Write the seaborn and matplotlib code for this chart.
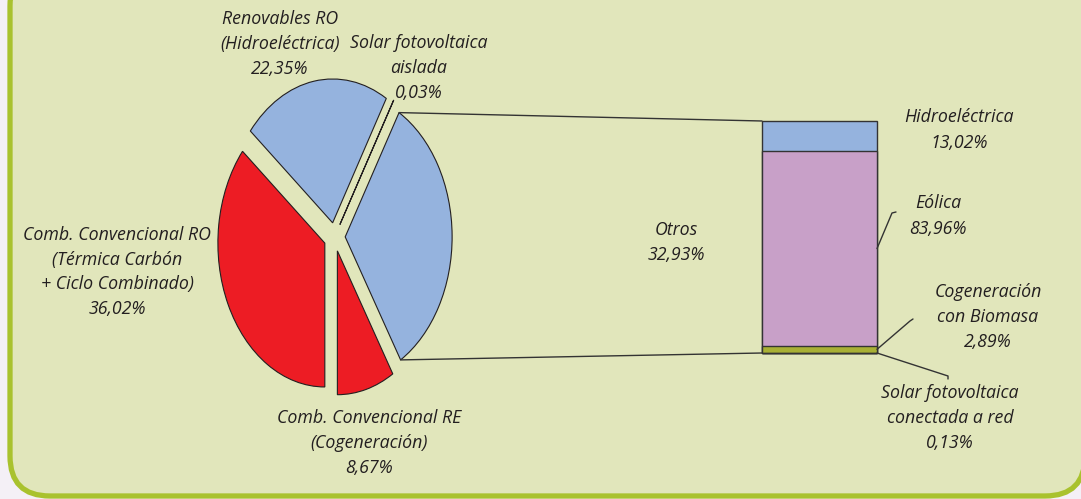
import matplotlib
matplotlib.use("Agg")
import matplotlib.pyplot as plt
import numpy as np
import pandas as pd
import seaborn as sns
from matplotlib.patches import FancyBboxPatch, ConnectionPatch
from matplotlib.lines import Line2D
from matplotlib.transforms import IdentityTransform

# Datos del grafico principal (tarta)
pie_labels = ["Comb. Convencional RO\n(Térmica Carbón\n+ Ciclo Combinado)",
              "Renovables RO\n(Hidroeléctrica)",
              "Solar fotovoltaica\naislada",
              "Otros",
              "Comb. Convencional RE\n(Cogeneración)"]
pie_values = [36.02, 22.35, 0.03, 32.93, 8.67]
pie_colors = ["#ED1C24", "#95B3DE", "#95B3DE", "#95B3DE", "#ED1C24"]

# Desglose de "Otros" (de abajo a arriba)
bar_labels = ["Solar fotovoltaica\nconectada a red", "Cogeneración\ncon Biomasa",
              "Eólica", "Hidroeléctrica"]
bar_values = [0.13, 2.89, 83.96, 13.02]
bar_colors = ["#5F6B73", "#A8B034", "#C8A0C8", "#95B3DE"]

W, H = 1081, 499
TXT = "#231F20"


def pct(v):
    return f"{v:.2f}".replace(".", ",") + "%"


def fx(x):
    return x / W


def fy(y):
    return 1 - y / H


sns.set_theme(style="white")
plt.rcParams["font.family"] = ["Open Sans", "DejaVu Sans"]

fig = plt.figure(figsize=(W / 100, H / 100), dpi=100)
fig.patch.set_facecolor("#F4F0F6")

# marco verde redondeado
panel = FancyBboxPatch((10, 3), 1075, 530, boxstyle="round,pad=0,rounding_size=40",
                       transform=IdentityTransform(), facecolor="#E1E6BB",
                       edgecolor="#A9C22E", linewidth=3.8, zorder=0)
fig.add_artist(panel)

# tarta (estirada en vertical)
axp = fig.add_axes([fx(195.5), fy(424), 278 / W, 374 / H])
wedges, _ = axp.pie(pie_values, colors=pie_colors, startangle=270, counterclock=False,
                    explode=[0.1] * len(pie_values),
                    wedgeprops=dict(edgecolor=TXT, linewidth=0.8))
axp.set_aspect("auto")
axp.set_xlim(-1.3, 1.3)
axp.set_ylim(-1.3, 1.3)
axp.axis("off")

# barra apilada con seaborn
df = pd.DataFrame({"grupo": "Otros", "segmento": bar_labels,
                   "acum": np.cumsum(bar_values)})
axb = fig.add_axes([fx(762), fy(353), 115 / W, 232 / H])
for i in reversed(range(len(df))):
    sns.barplot(data=df.iloc[[i]], x="grupo", y="acum", color=bar_colors[i], width=1,
                saturation=1, edgecolor="#333333", linewidth=1.0, ax=axb)
for p in axb.patches:
    p.set_clip_on(False)
axb.set_xlim(-0.5, 0.5)
axb.set_ylim(0, 100)
axb.axis("off")

# lineas de union tarta -> barra
w = wedges[3]
cx, cy = w.center
for ang, yb in [(w.theta2, 100), (w.theta1, 0)]:
    pa = (cx + w.r * np.cos(np.radians(ang)), cy + w.r * np.sin(np.radians(ang)))
    con = ConnectionPatch(xyA=pa, coordsA=axp.transData, xyB=(-0.5, yb),
                          coordsB=axb.transData, color="#333333", linewidth=1.0)
    fig.add_artist(con)

# etiquetas de la tarta
kw = dict(ha="center", va="center", fontsize=12.8, style="italic", color=TXT,
          linespacing=1.5)
pie_pos = [(117, 272), (280, 44), (419, 68), (676, 243), (369, 443)]
for lab, v, (x, y) in zip(pie_labels, pie_values, pie_pos):
    fig.text(fx(x), fy(y), lab + "\n" + pct(v), **kw)

# etiquetas de la barra
bar_pos = [(950, 418), (988, 317), (938, 216), (959, 130)]
for lab, v, (x, y) in zip(bar_labels, bar_values, bar_pos):
    fig.text(fx(x), fy(y), lab + "\n" + pct(v), **kw)

# lineas guia
fig.canvas.draw()
mids = np.cumsum(bar_values) - np.array(bar_values) / 2
guides = {0: [(948, 376), (948, 379)], 1: [(910, 321), (913, 319)],
          2: [(892, 213), (896, 212)]}
for i, pts in guides.items():
    yv = 0 if i == 0 else mids[i]
    x0, y0 = axb.transData.transform((0.5, yv))
    xs = [x0] + [p[0] for p in pts]
    ys = [y0] + [H - p[1] for p in pts]
    fig.add_artist(Line2D(xs, ys, transform=IdentityTransform(), color="#333333",
                          linewidth=1.0))

fig.savefig("out.png", dpi=100, facecolor=fig.get_facecolor())
